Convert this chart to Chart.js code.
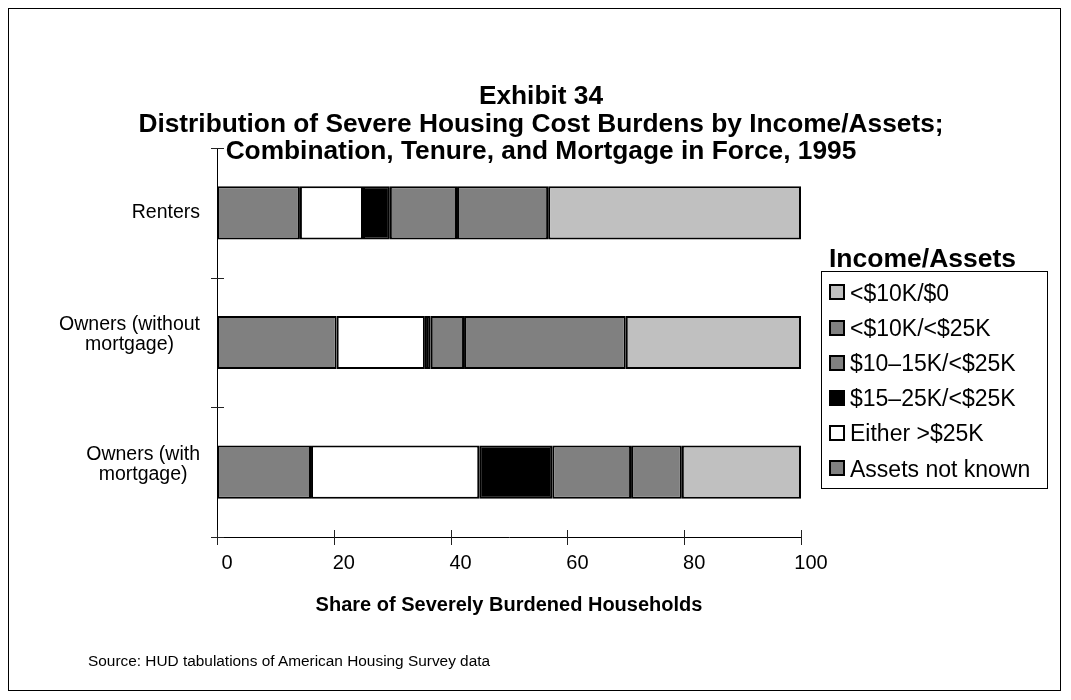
<!DOCTYPE html>
<html><head><meta charset="utf-8">
<script src="https://cdn.jsdelivr.net/npm/chart.js@4.4.0/dist/chart.umd.min.js"></script>
<style>
html,body{margin:0;padding:0;background:#fff;}
body{width:1071px;height:700px;position:relative;overflow:hidden;font-family:"Liberation Sans",Arial,sans-serif;color:#000;}
#frame{position:absolute;left:8px;top:8px;width:1053px;height:683px;border:1px solid #000;box-sizing:border-box;}
#chart{position:absolute;left:0;top:0;}
#title{position:absolute;left:0;width:1082px;top:82px;text-align:center;font-weight:bold;font-size:26.3px;line-height:27.5px;}
#legendTitle{position:absolute;left:829px;top:243px;font-weight:bold;font-size:26.5px;line-height:30px;}
#legend{position:absolute;left:821px;top:271px;width:227px;height:218px;border:1px solid #000;box-sizing:border-box;}
.item{position:absolute;left:7px;height:30px;line-height:30px;font-size:23px;white-space:nowrap;}
.sw{display:inline-block;width:12px;height:12px;border:2px solid #000;vertical-align:middle;margin-right:5px;position:relative;top:-2px;}
#source{position:absolute;left:88px;top:652px;font-size:15.4px;}
</style></head>
<body>
<div id="frame"></div>
<canvas id="chart" width="1071" height="700"></canvas>
<div id="title">Exhibit 34<br>Distribution of Severe Housing Cost Burdens by Income/Assets;<br>Combination, Tenure, and Mortgage in Force, 1995</div>
<div id="legendTitle">Income/Assets</div>
<div id="legend"></div>
<div id="source">Source: HUD tabulations of American Housing Survey data</div>
<script>
// ---- data ----
const categories = [["Renters"], ["Owners (without", "mortgage)"], ["Owners (with", "mortgage)"]];
const seriesNames = ["Assets not known", "Either >$25K", "$15\u201325K/<$25K", "$10\u201315K/<$25K", "<$10K/<$25K", "<$10K/$0"];
const assetsNotKnown = [14.2, 20.5, 16.1];
const eitherOver25K = [10.8, 15.1, 28.8];
const inc15to25K = [4.6, 1.0, 12.5];
const inc10to15K = [11.5, 5.7, 13.5];
const under10KUnder25K = [15.6, 27.7, 8.7];
const under10KZero = [43.3, 30.0, 20.4];
const xTicks = [0, 20, 40, 60, 80, 100];
const seriesColors = ["#808080", "#FFFFFF", "#000000", "#808080", "#808080", "#C0C0C0"];
const seriesValues = [assetsNotKnown, eitherOver25K, inc15to25K, inc10to15K, under10KUnder25K, under10KZero];

const FONT = "'Liberation Sans', Arial, sans-serif";

const crossTicks = {
  id: 'crossTicks',
  afterDraw(chart) {
    const ctx = chart.ctx, xs = chart.scales.x, ys = chart.scales.y;
    ctx.save();
    ctx.strokeStyle = '#222';
    ctx.lineWidth = 1;
    ctx.beginPath();
    xs.ticks.forEach((t, i) => {
      const px = Math.round(xs.getPixelForTick(i)) + 0.5;
      ctx.moveTo(px, xs.top - 7); ctx.lineTo(px, xs.top + 8);
    });
    for (let i = 0; i <= categories.length; i++) {
      const py = Math.round(ys.getPixelForValue(i - 0.5)) + 0.5;
      ctx.moveTo(ys.right - 6, py); ctx.lineTo(ys.right + 7, py);
    }
    ctx.stroke();
    // category labels: group right-aligned, lines centered within group
    ctx.fillStyle = '#000';
    ctx.font = '19.5px ' + FONT;
    ctx.textAlign = 'center';
    ctx.textBaseline = 'middle';
    const lh = 20;
    categories.forEach((lines, i) => {
      const cy = ys.getPixelForValue(i) - (lines.length > 1 ? 8 : 0);
      const w = Math.max(...lines.map(l => ctx.measureText(l).width));
      const cx = ys.right - 17 - w / 2;
      lines.forEach((l, j) => {
        ctx.fillText(l, cx, cy + (j - (lines.length - 1) / 2) * lh);
      });
    });
    ctx.restore();
  }
};

const chart = new Chart(document.getElementById('chart'), {
  type: 'bar',
  data: {
    labels: categories,
    datasets: seriesNames.map((n, i) => ({
      label: n,
      data: seriesValues[i],
      backgroundColor: seriesColors[i],
      borderColor: '#000',
      borderWidth: 2,
      borderSkipped: false,
      barPercentage: 0.41,
      categoryPercentage: 1.0
    }))
  },
  options: {
    indexAxis: 'y',
    responsive: false,
    animation: false,
    layout: { padding: { top: 148, right: 270, bottom: 63, left: 0 } },
    plugins: { legend: { display: false }, tooltip: { enabled: false } },
    scales: {
      x: {
        type: 'linear', stacked: true, min: 0, max: 100,
        afterBuildTicks: s => { s.ticks = xTicks.map(v => ({ value: v })); },
        grid: { display: false },
        border: { display: true, color: '#000', width: 1 },
        ticks: { font: { family: FONT, size: 20 }, color: '#000', padding: 6, labelOffset: 10, maxRotation: 0 },
        title: { display: true, text: 'Share of Severely Burdened Households', color: '#000',
                 font: { family: FONT, size: 20, weight: 'bold' }, padding: { top: 0, bottom: 20 } },
        afterFit: s => { s.height = 100; }
      },
      y: {
        type: 'category', stacked: true,
        grid: { display: false },
        border: { display: true, color: '#000', width: 1 },
        ticks: { display: false },
        afterFit: s => { s.width = 217; }
      }
    }
  },
  plugins: [crossTicks]
});

// legend built from datasets (reverse order like the original)
const leg = document.getElementById('legend');
chart.data.datasets.slice().reverse().forEach((ds, i) => {
  const d = document.createElement('div');
  d.className = 'item';
  d.style.top = (5.5 + i * 35.2) + 'px';
  const sw = document.createElement('span');
  sw.className = 'sw';
  sw.style.background = ds.backgroundColor;
  d.appendChild(sw);
  d.appendChild(document.createTextNode(ds.label));
  leg.appendChild(d);
});
</script>
</body></html>
